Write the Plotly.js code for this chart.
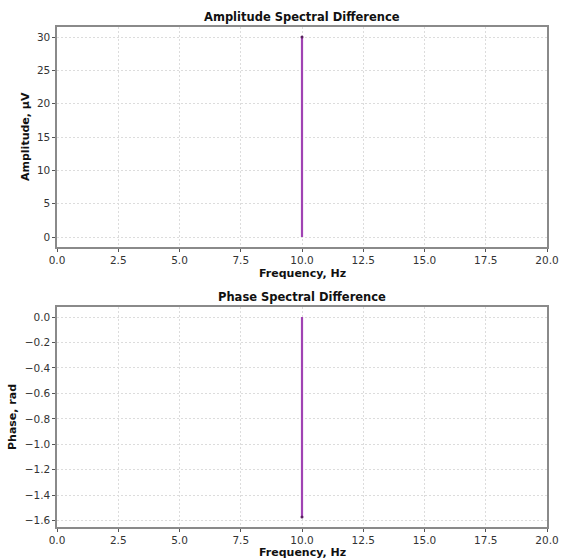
<!DOCTYPE html>
<html>
<head>
<meta charset="utf-8">
<script src="https://cdn.plot.ly/plotly-3.0.1.min.js"></script>
<style>html,body{margin:0;padding:0;background:#fff;}#chart{width:561px;height:558px;}</style>
</head>
<body>
<div id="chart"></div>
<script>
// Data
const frequencies = [10.0];
const amplitudes = [30.0];
const phases = [-1.5708];
const xTicks = [0, 2.5, 5, 7.5, 10, 12.5, 15, 17.5, 20];
const xTickLabels = ['0.0','2.5','5.0','7.5','10.0','12.5','15.0','17.5','20.0'];
const ampTicks = [0, 5, 10, 15, 20, 25, 30];
const phaseTicks = [0, -0.2, -0.4, -0.6, -0.8, -1.0, -1.2, -1.4, -1.6];
const phaseTickLabels = ['0.0','\u22120.2','\u22120.4','\u22120.6','\u22120.8','\u22121.0','\u22121.2','\u22121.4','\u22121.6'];

function stem(xs, ys) {
  const sx = [], sy = [];
  xs.forEach((x, i) => { sx.push(x, x, null); sy.push(0, ys[i], null); });
  return {sx, sy};
}
const stemColor = '#a043b3';
const a = stem(frequencies, amplitudes);
const p = stem(frequencies, phases);

const traces = [
  {x: a.sx, y: a.sy, mode: 'lines', line: {color: stemColor, width: 2.2}, xaxis: 'x', yaxis: 'y', hoverinfo: 'skip', showlegend: false},
  {x: frequencies, y: amplitudes, mode: 'markers', marker: {color: '#5a2060', size: 3}, xaxis: 'x', yaxis: 'y', showlegend: false},
  {x: p.sx, y: p.sy, mode: 'lines', line: {color: stemColor, width: 2.2}, xaxis: 'x2', yaxis: 'y2', hoverinfo: 'skip', showlegend: false},
  {x: frequencies, y: phases, mode: 'markers', marker: {color: '#5a2060', size: 3}, xaxis: 'x2', yaxis: 'y2', showlegend: false}
];

const font = {family: 'DejaVu Sans, sans-serif', size: 11, color: '#222'};
const axBase = {
  showline: true, mirror: true, linecolor: '#8a8a8a', linewidth: 1.6,
  ticks: 'outside', ticklen: 3, tickwidth: 1, tickcolor: '#555',
  showgrid: true, gridcolor: '#dcdcdc', griddash: '2px,2px', gridwidth: 1,
  zeroline: false, tickfont: {family: 'DejaVu Sans, sans-serif', size: 10.5, color: '#333'}
};
const W = 561, H = 558;
const xdom = [57/W, 547/W];
const xc = (xdom[0]+xdom[1])/2;
const titleFont = {family: 'DejaVu Sans, sans-serif', size: 11.5, color: '#111', weight: 'bold'};
const axTitleFont = {family: 'DejaVu Sans, sans-serif', size: 11, color: '#111', weight: 'bold'};
const py = v => 1 - v/H;
const px = v => v/W;

const layout = {
  width: W, height: H,
  margin: {l: 0, r: 0, t: 0, b: 0},
  paper_bgcolor: '#fff', plot_bgcolor: '#fff',
  font: font, showlegend: false,
  xaxis: Object.assign({}, axBase, {domain: xdom, range: [0, 20], tickvals: xTicks, ticktext: xTickLabels, anchor: 'y'}),
  yaxis: Object.assign({}, axBase, {domain: [py(247), py(27)], range: [-1.5, 31.5], tickvals: ampTicks, anchor: 'x'}),
  xaxis2: Object.assign({}, axBase, {domain: xdom, range: [0, 20], tickvals: xTicks, ticktext: xTickLabels, anchor: 'y2'}),
  yaxis2: Object.assign({}, axBase, {domain: [py(527), py(307)], range: [-1.6493, 0.0785], tickvals: phaseTicks, ticktext: phaseTickLabels, anchor: 'x2'}),
  annotations: [
    {text: '<b>Amplitude Spectral Difference</b>', xref: 'paper', yref: 'paper', x: xc, y: py(17), yanchor: 'middle', showarrow: false, font: titleFont},
    {text: '<b>Phase Spectral Difference</b>', xref: 'paper', yref: 'paper', x: xc, y: py(297), yanchor: 'middle', showarrow: false, font: titleFont},
    {text: '<b>Frequency, Hz</b>', xref: 'paper', yref: 'paper', x: xc, y: py(273), yanchor: 'middle', showarrow: false, font: axTitleFont},
    {text: '<b>Frequency, Hz</b>', xref: 'paper', yref: 'paper', x: xc, y: py(552), yanchor: 'middle', showarrow: false, font: axTitleFont},
    {text: '<b>Amplitude, \u00b5V</b>', xref: 'paper', yref: 'paper', x: px(25), y: py(137), xanchor: 'center', yanchor: 'middle', textangle: -90, showarrow: false, font: axTitleFont},
    {text: '<b>Phase, rad</b>', xref: 'paper', yref: 'paper', x: px(12), y: py(417), xanchor: 'center', yanchor: 'middle', textangle: -90, showarrow: false, font: axTitleFont}
  ]
};

Plotly.newPlot('chart', traces, layout, {displayModeBar: false, staticPlot: true});
</script>
</body>
</html>
